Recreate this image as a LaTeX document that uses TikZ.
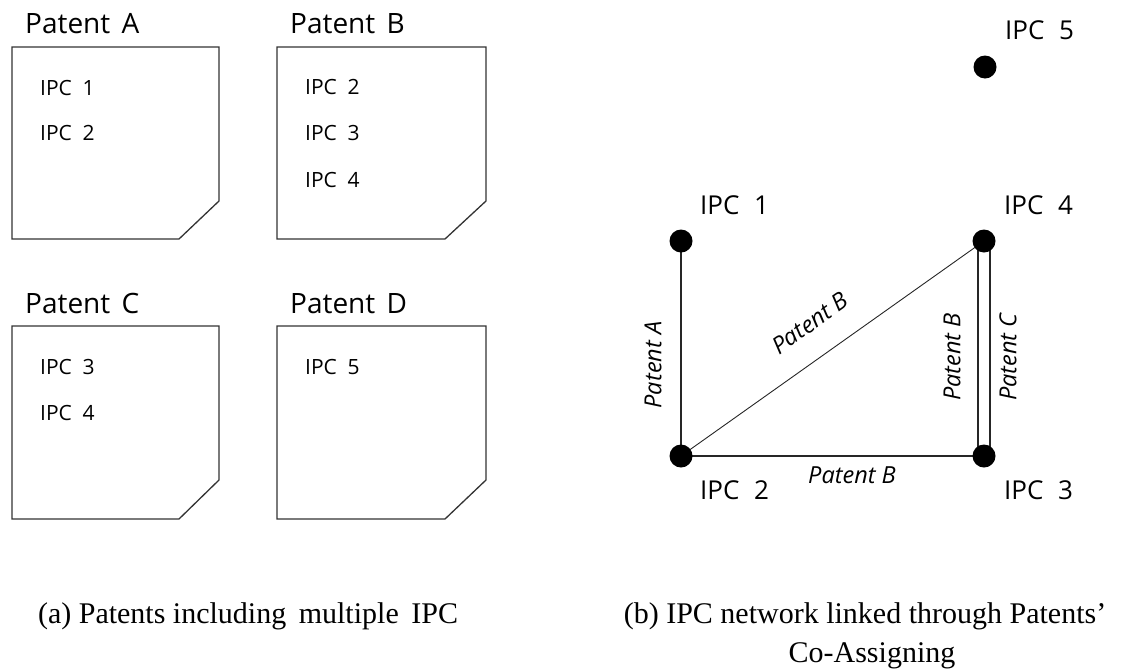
\documentclass[tikz,border=0pt]{standalone}
\usepackage{fontspec}
\setmainfont{Liberation Serif}
\newfontfamily\uifont{Open Sans}
\newcommand{\wsp}[1]{\hspace{#1em}}
\begin{document}
\begin{tikzpicture}[x=1pt,y=-1pt,
  doc/.style={draw=black!80, line width=1.3pt},
  title/.style={font=\uifont\fontsize{28}{32}\selectfont, anchor=base west, inner sep=0pt},
  ipcin/.style={font=\uifont\fontsize{21}{25}\selectfont, anchor=base west, inner sep=0pt},
  ipclab/.style={font=\uifont\fontsize{26}{30}\selectfont, anchor=base west, inner sep=0pt},
  edgelab/.style={font=\uifont\itshape\fontsize{23.5}{27}\selectfont, inner sep=0pt},
  link/.style={draw=black!85, line width=1.2pt},
  dot/.style={circle, fill=black, minimum size=23pt, inner sep=0pt},
  captext/.style={font=\fontsize{30}{36}\selectfont, anchor=base, inner sep=0pt}
]
\useasboundingbox (0,0) rectangle (1126,670);

% ---------- (a) patent documents ----------
\draw[doc] (12,47) -- (219,47) -- (219,201) -- (179,239) -- (12,239) -- cycle;
\draw[doc] (277,47) -- (486,47) -- (486,201) -- (445,239) -- (277,239) -- cycle;
\draw[doc] (12,326) -- (219,326) -- (219,480) -- (179,519) -- (12,519) -- cycle;
\draw[doc] (277,326) -- (486,326) -- (486,480) -- (445,519) -- (277,519) -- cycle;

\node[title] (ta) at (25,33) {Patent\wsp{0.15} A};
\node[title] (tb) at (290,33) {Patent\wsp{0.15} B};
\node[title] (tc) at (25,313) {Patent\wsp{0.15} C};
\node[title] (td) at (290,313) {Patent\wsp{0.15} D};

\node[ipcin] (a1) at (40,95) {IPC\wsp{0.25} 1};
\node[ipcin] (a2) at (40,140) {IPC\wsp{0.25} 2};
\node[ipcin] (b2) at (305,94) {IPC\wsp{0.25} 2};
\node[ipcin] (b3) at (305,140) {IPC\wsp{0.25} 3};
\node[ipcin] (b4) at (305,187) {IPC\wsp{0.25} 4};
\node[ipcin] (c3) at (40,374) {IPC\wsp{0.25} 3};
\node[ipcin] (c4) at (40,420) {IPC\wsp{0.25} 4};
\node[ipcin] (d5) at (305,374) {IPC\wsp{0.25} 5};

% ---------- (b) network ----------
\coordinate (p1) at (681,241);
\coordinate (p2) at (681,456);
\coordinate (p3) at (984,456);
\coordinate (p4) at (984,241);
\coordinate (p5) at (985,67);

\draw[link] (p1) -- (p2);
\draw[link, line width=0.9pt] (p2) -- (p4);
\draw[link] (p2) -- (p3);
\draw[link] ([xshift=-6pt]p4) -- ([xshift=-6pt]p3);
\draw[link] ([xshift=6pt]p4) -- ([xshift=6pt]p3);

\node[dot] (n1) at (p1) {};
\node[dot] (n2) at (p2) {};
\node[dot] (n3) at (p3) {};
\node[dot] (n4) at (p4) {};
\node[dot] (n5) at (p5) {};

\node[ipclab] (l1) at (700,214) {IPC\wsp{0.3} 1};
\node[ipclab] (l2) at (700,499) {IPC\wsp{0.3} 2};
\node[ipclab] (l3) at (1004,499) {IPC\wsp{0.3} 3};
\node[ipclab] (l4) at (1004,214) {IPC\wsp{0.3} 4};
\node[ipclab] (l5) at (1005,39) {IPC\wsp{0.3} 5};

\node[edgelab, rotate=90] (ea) at (653,365) {Patent A};
\node[edgelab, rotate=35.3] (eb) at (810,323) {Patent B};
\node[edgelab, rotate=90] (ec) at (952,357) {Patent B};
\node[edgelab, rotate=90] (ed) at (1008,357) {Patent C};
\node[edgelab] (ee) at (852,475) {Patent B};

% ---------- captions ----------
\node[captext] (ca) at (248,623) {(a) Patents including\, multiple\, IPC};
\node[captext] (cb) at (865,623) {(b) IPC network linked through Patents’};
\node[captext] (cc) at (872,662) {Co-Assigning};
\end{tikzpicture}
\end{document}
